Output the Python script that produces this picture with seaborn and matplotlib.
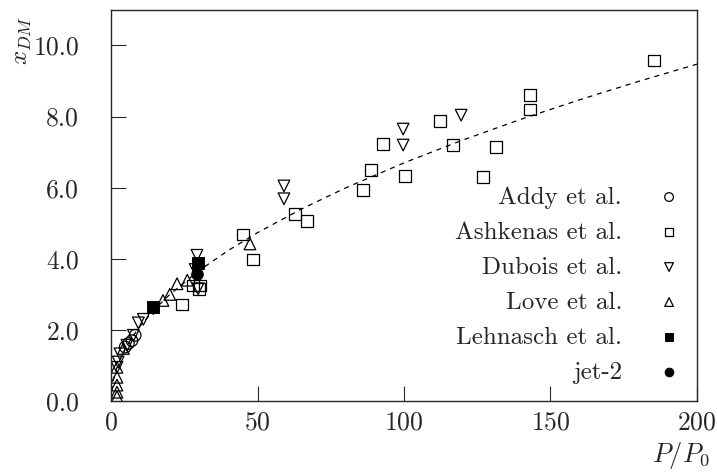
import numpy as np
import matplotlib
matplotlib.use('Agg')
import matplotlib.pyplot as plt
import seaborn as sns

# data
addy_x = [4.8, 5.9, 7.1, 8.2]
addy_y = [1.52, 1.62, 1.70, 1.85]

ashkenas_x = [24.2, 28.0, 30.4, 30.0, 45.0, 48.5, 62.8, 66.9, 86.0, 88.7, 92.8, 100.3,
              112.3, 116.7, 127.0, 131.4, 143.0, 143.0, 185.3]
ashkenas_y = [2.72, 3.25, 3.25, 3.15, 4.68, 3.98, 5.27, 5.07, 5.94, 6.50, 7.23, 6.33,
              7.87, 7.20, 6.30, 7.14, 8.20, 8.60, 9.58]

dubois_x = [2.0, 2.4, 3.0, 5.4, 7.6, 9.3, 11.0, 14.4, 28.7, 29.3, 29.7, 59.0, 59.0,
            99.7, 99.7, 119.5]
dubois_y = [0.95, 1.10, 1.33, 1.57, 1.85, 2.20, 2.30, 2.60, 3.70, 4.10, 3.16, 6.05, 5.69,
            7.65, 7.20, 8.04]

love_x = [2.0, 2.0, 2.0, 2.0, 2.0, 4.2, 17.7, 20.0, 22.5, 26.0, 47.4]
love_y = [0.12, 0.25, 0.45, 0.67, 0.95, 1.48, 2.83, 3.00, 3.30, 3.40, 4.42]

lehnasch_x = [14.4, 29.8]
lehnasch_y = [2.65, 3.87]

jet2_x = [29.3]
jet2_y = [3.58]

# dashed correlation curve, sampled
fit_x = [0, 0.5, 1, 2, 3, 5, 7.5, 10, 15, 20, 30, 40, 50, 65, 80, 100, 120, 140, 160, 180, 200]
fit_y = [0, 0.474, 0.67, 0.948, 1.160, 1.498, 1.835, 2.119, 2.595, 2.996, 3.670, 4.237,
         4.738, 5.402, 5.993, 6.70, 7.339, 7.927, 8.475, 8.989, 9.475]

sns.set_style('ticks')
plt.rcParams['font.family'] = ['cmr10', 'DejaVu Serif']
plt.rcParams['mathtext.fontset'] = 'cm'
plt.rcParams['axes.formatter.use_mathtext'] = True

fig = plt.figure(figsize=(7.17, 4.73), dpi=100)
ax = fig.add_axes([0.155, 0.152, 0.817, 0.827])

sns.lineplot(x=fit_x, y=fit_y, ax=ax, color='black', linewidth=0.9,
             linestyle=(0, (4, 4)), legend=False)

sz = 70
open_kw = dict(facecolor='none', edgecolor='black', linewidth=0.9, s=sz, ax=ax)
sns.scatterplot(x=addy_x, y=addy_y, marker='o', label='Addy et al.', **open_kw)
sns.scatterplot(x=ashkenas_x, y=ashkenas_y, marker='s', label='Ashkenas et al.', **open_kw)
sns.scatterplot(x=dubois_x, y=dubois_y, marker='v', label='Dubois et al.', **open_kw)
sns.scatterplot(x=love_x, y=love_y, marker='^', label='Love et al.', **open_kw)
sns.scatterplot(x=lehnasch_x, y=lehnasch_y, marker='s', color='black', edgecolor='black',
                s=sz, label='Lehnasch et al.', ax=ax)
sns.scatterplot(x=jet2_x, y=jet2_y, marker='o', color='black', edgecolor='black',
                s=sz, label='jet-2', ax=ax)

ax.set_xlim(0, 200)
ax.set_ylim(0, 11)
ax.set_xticks([0, 50, 100, 150, 200])
ax.set_yticks([0, 2, 4, 6, 8, 10])
ax.set_yticklabels([f'{v:.1f}' for v in [0, 2, 4, 6, 8, 10]])
ax.tick_params(direction='in', length=11, width=0.8, labelsize=18.5,
               top=False, right=False)
ax.tick_params(axis='x', pad=7)
ax.tick_params(axis='y', pad=23)
for sp in ax.spines.values():
    sp.set_visible(True)
    sp.set_linewidth(1.0)

ax.set_xlabel('')
ax.set_ylabel('')
fig.text(710 / 717, 1 - 471 / 473, '$P/P_0$', fontsize=19, ha='right', va='bottom')
fig.text(23 / 717, 1 - 16 / 473, '$x_{DM}$', fontsize=18, ha='center', va='top',
         rotation=90)

ax.legend(loc='lower right', bbox_to_anchor=(1.025, 0.0), markerfirst=False, frameon=False,
          fontsize=18, labelspacing=0.5, handletextpad=0.88, borderaxespad=0.3,
          markerscale=0.75)

fig.savefig('out.png', dpi=100)
